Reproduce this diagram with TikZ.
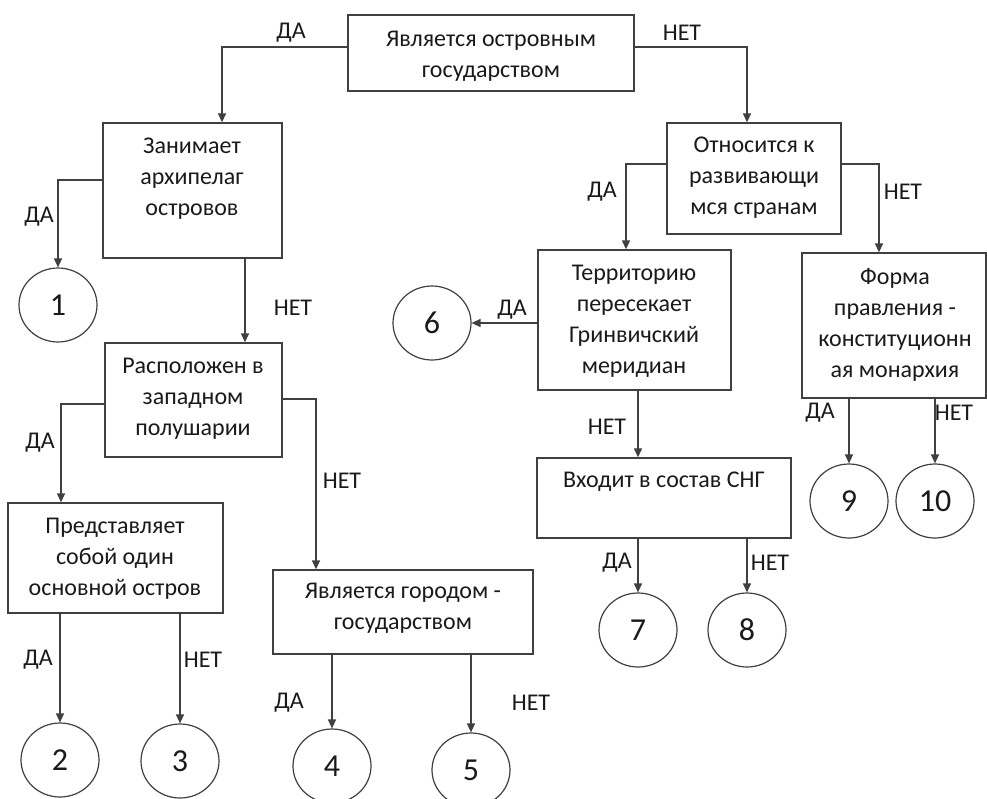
\documentclass[tikz,border=0pt]{standalone}
\usepackage{fontspec}
\setmainfont{Carlito}
\usetikzlibrary{arrows.meta,shapes.geometric}
\definecolor{linec}{HTML}{404040}
\definecolor{textc}{HTML}{1A1A1A}
\begin{document}
\begin{tikzpicture}[x=1pt,y=-1pt,
  box/.style={draw=linec, line width=1.3pt, rectangle, inner sep=0pt},
  txt/.style={font=\fontsize{24}{31}\selectfont, align=center, text=textc, inner sep=0pt},
  lbl/.style={font=\fontsize{24}{26}\selectfont, text=textc, inner sep=0pt},
  num/.style={draw=linec, line width=1.2pt, ellipse, minimum width=78pt, minimum height=74pt, inner sep=0pt, text=textc, font=\fontsize{32}{34}\selectfont},
  conn/.style={draw=linec, line width=1.3pt, -{Triangle[length=9pt,width=8pt]}}]
\fill[white] (0,0) rectangle (987,798);
\useasboundingbox (0,0) rectangle (987,798);

% boxes
\node[box, minimum width=286pt, minimum height=76pt] (top) at (491,53) {};
\node[txt] (topt) at (491,56) {Является островным\\государством};
\node[box, minimum width=179pt, minimum height=135pt] (zan) at (192.5,190.5) {};
\node[txt] (zant) at (192,179) {Занимает\\архипелаг\\островов};
\node[box, minimum width=177pt, minimum height=114pt] (ras) at (193.5,400) {};
\node[txt] (rast) at (193,399) {Расположен в\\западном\\полушарии};
\node[box, minimum width=215pt, minimum height=110pt] (pred) at (115.5,558) {};
\node[txt] (predt) at (115,559) {Представляет\\собой один\\основной остров};
\node[box, minimum width=260pt, minimum height=84pt] (gor) at (403,612) {};
\node[txt] (gort) at (403,608) {Является городом -\\государством};
\node[box, minimum width=174pt, minimum height=111pt] (otn) at (754,178.5) {};
\node[txt] (otnt) at (754,178) {Относится к\\развивающи\\мся странам};
\node[box, minimum width=193pt, minimum height=140pt] (ter) at (634.5,320) {};
\node[txt] (tert) at (634,321) {Территорию\\пересекает\\Гринвичский\\меридиан};
\node[box, minimum width=254pt, minimum height=80pt] (vh) at (664,498) {};
\node[txt] (vht) at (664,482) {Входит в состав СНГ};
\node[box, minimum width=184pt, minimum height=145pt] (form) at (894,325.5) {};
\node[txt] (formt) at (895,325) {Форма\\правления -\\конституционн\\ая монархия};

% circles
\node[num] (c1) at (58,305) {1};
\node[num] (c2) at (60,760) {2};
\node[num] (c3) at (180,761) {3};
\node[num] (c4) at (332,766) {4};
\node[num] (c5) at (471,770) {5};
\node[num] (c6) at (432,323) {6};
\node[num] (c7) at (638,630) {7};
\node[num] (c8) at (747,630) {8};
\node[num] (c9) at (849,501) {9};
\node[num] (c10) at (935,501) {10};

% connectors
\draw[conn] ([yshift=6pt]top.west) -| ([xshift=29.5pt]zan.north);
\draw[conn] ([yshift=6pt]top.east) -| ([xshift=-7pt]otn.north);
\draw[conn] ([yshift=10.5pt]zan.west) -| (c1.north);
\draw[conn] ([xshift=52.5pt]zan.south) -- ([xshift=52.5pt]zan.south |- ras.north);
\draw[conn] ([yshift=-4pt]ras.west) -| ([xshift=-54.5pt]pred.north);
\draw[conn] ([yshift=1pt]ras.east) -| ([xshift=-87pt]gor.north);
\draw[conn] (c2.north |- pred.south) -- (c2.north);
\draw[conn] (c3.north |- pred.south) -- (c3.north);
\draw[conn] (c4.north |- gor.south) -- (c4.north);
\draw[conn] (c5.north |- gor.south) -- (c5.north);
\draw[conn] ([yshift=14.5pt]otn.west) -| ([xshift=-8.5pt]ter.north);
\draw[conn] ([yshift=14.5pt]otn.east) -| ([xshift=-15pt]form.north);
\draw[conn] ([yshift=-3pt]ter.west) -- (c6.east);
\draw[conn] ([xshift=3.5pt]ter.south) -- ([xshift=3.5pt]ter.south |- vh.north);
\draw[conn] (c7.north |- vh.south) -- (c7.north);
\draw[conn] (c8.north |- vh.south) -- (c8.north);
\draw[conn] (c9.north |- form.south) -- (c9.north);
\draw[conn] (c10.north |- form.south) -- (c10.north);

% labels
\node[lbl] (l1) at (291,33) {ДА};
\node[lbl] (l2) at (682,33) {НЕТ};
\node[lbl] (l3) at (39,217) {ДА};
\node[lbl] (l4) at (293,308) {НЕТ};
\node[lbl] (l5) at (40,443) {ДА};
\node[lbl] (l6) at (342,481) {НЕТ};
\node[lbl] (l7) at (38,660) {ДА};
\node[lbl] (l8) at (203,660) {НЕТ};
\node[lbl] (l9) at (289,703) {ДА};
\node[lbl] (l10) at (531,703) {НЕТ};
\node[lbl] (l11) at (602,192) {ДА};
\node[lbl] (l12) at (903,192) {НЕТ};
\node[lbl] (l13) at (512,310) {ДА};
\node[lbl] (l14) at (607,427) {НЕТ};
\node[lbl] (l15) at (617,563) {ДА};
\node[lbl] (l16) at (770,563) {НЕТ};
\node[lbl] (l17) at (820,413) {ДА};
\node[lbl] (l18) at (954,413) {НЕТ};
\end{tikzpicture}
\end{document}
